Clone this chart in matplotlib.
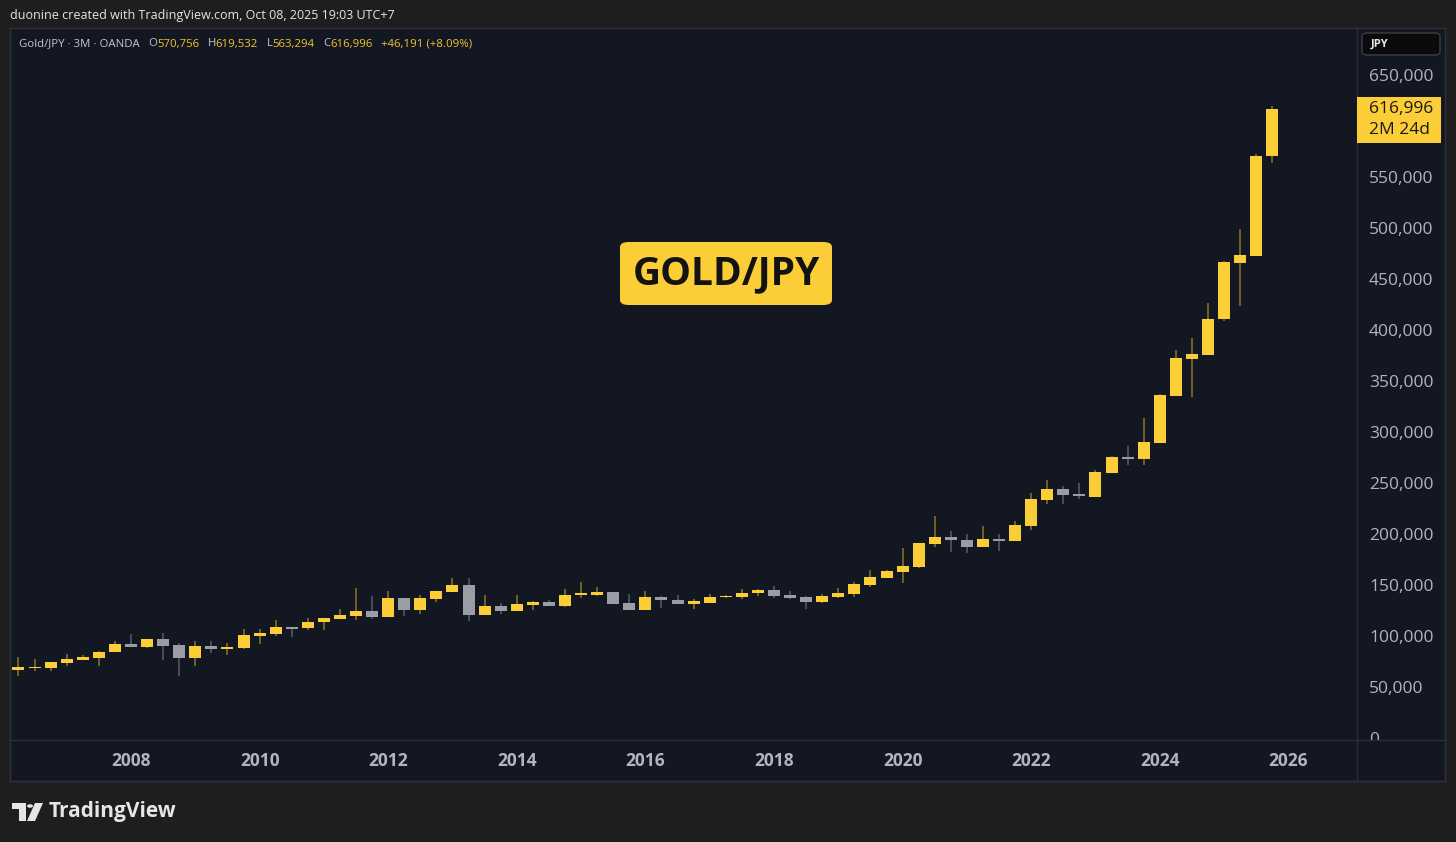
import matplotlib
matplotlib.use("Agg")
import matplotlib.pyplot as plt
from matplotlib.patches import FancyBboxPatch, Rectangle, Polygon, Circle
from matplotlib.lines import Line2D
import matplotlib.transforms as mtransforms

# ---------------- data (JPY, thousands) ----------------
quarters = [
    "2006Q2", "2006Q3", "2006Q4",
    "2007Q1", "2007Q2", "2007Q3", "2007Q4",
    "2008Q1", "2008Q2", "2008Q3", "2008Q4",
    "2009Q1", "2009Q2", "2009Q3", "2009Q4",
    "2010Q1", "2010Q2", "2010Q3", "2010Q4",
    "2011Q1", "2011Q2", "2011Q3", "2011Q4",
    "2012Q1", "2012Q2", "2012Q3", "2012Q4",
    "2013Q1", "2013Q2", "2013Q3", "2013Q4",
    "2014Q1", "2014Q2", "2014Q3", "2014Q4",
    "2015Q1", "2015Q2", "2015Q3", "2015Q4",
    "2016Q1", "2016Q2", "2016Q3", "2016Q4",
    "2017Q1", "2017Q2", "2017Q3", "2017Q4",
    "2018Q1", "2018Q2", "2018Q3", "2018Q4",
    "2019Q1", "2019Q2", "2019Q3", "2019Q4",
    "2020Q1", "2020Q2", "2020Q3", "2020Q4",
    "2021Q1", "2021Q2", "2021Q3", "2021Q4",
    "2022Q1", "2022Q2", "2022Q3", "2022Q4",
    "2023Q1", "2023Q2", "2023Q3", "2023Q4",
    "2024Q1", "2024Q2", "2024Q3", "2024Q4",
    "2025Q1", "2025Q2", "2025Q3", "2025Q4",
]
opens = [
    66.7, 68.6, 68.9, 73.8, 76.2, 78.4, 84.0, 92.2, 89.5, 97.4,
    91.5, 78.1, 90.2, 87.3, 88.2, 100.0, 102.0, 109.1, 107.8, 114.0,
    117.0, 119.6, 124.2, 118.9, 137.3, 125.8, 136.6, 143.1, 149.7, 120.6,
    129.7, 124.5, 130.7, 133.6, 129.7, 140.5, 140.5, 142.8, 132.6, 125.8,
    138.2, 135.3, 131.7, 132.6, 137.9, 137.9, 141.9, 145.4, 140.2, 137.9,
    133.6, 138.5, 141.5, 150.0, 156.9, 163.0, 167.6, 190.2, 197.1, 194.4,
    187.0, 195.1, 193.1, 208.1, 233.3, 244.4, 238.9, 236.6, 259.5, 275.5,
    273.5, 288.9, 335.3, 371.9, 375.5, 410.8, 466.0, 472.8, 570.756,
]
highs = [
    79.4, 77.4, 74.8, 82.4, 81.4, 85.3, 95.1, 102.0, 97.4, 102.9,
    93.4, 95.1, 95.1, 93.1, 106.9, 106.9, 115.7, 109.1, 117.6, 117.9,
    126.8, 146.8, 139.2, 143.8, 137.3, 139.9, 144.1, 156.6, 156.6, 139.9,
    132.6, 140.2, 134.6, 135.6, 146.4, 153.2, 148.0, 143.4, 141.5, 144.1,
    139.5, 140.5, 136.0, 141.2, 140.5, 146.1, 146.1, 148.7, 144.4, 138.9,
    140.9, 147.4, 152.9, 164.7, 164.7, 186.3, 191.2, 218.0, 202.6, 200.0,
    208.1, 200.3, 212.4, 239.9, 253.0, 246.8, 250.0, 263.1, 276.8, 286.3,
    313.7, 337.0, 380.1, 391.9, 426.5, 467.7, 498.7, 572.9, 619.532,
]
lows = [
    61.0, 65.7, 65.4, 70.6, 76.2, 70.6, 84.0, 89.2, 87.9, 76.8,
    61.1, 70.6, 83.3, 81.4, 87.3, 92.2, 100.0, 99.0, 105.9, 106.2,
    117.0, 115.7, 117.0, 118.9, 119.6, 121.9, 133.6, 143.1, 114.7, 120.6,
    121.9, 124.5, 125.5, 129.7, 128.7, 137.5, 138.9, 131.7, 125.8, 125.8,
    127.7, 131.7, 126.8, 132.6, 137.3, 136.6, 139.5, 137.3, 136.6, 126.8,
    132.6, 137.0, 138.5, 148.3, 156.9, 151.7, 166.7, 187.5, 182.4, 181.1,
    187.0, 183.3, 193.1, 203.9, 229.4, 229.7, 234.3, 236.6, 259.5, 267.9,
    267.9, 288.9, 335.3, 334.3, 375.5, 408.8, 423.5, 472.8, 563.294,
]
closes = [
    69.6, 69.6, 74.8, 77.2, 79.1, 84.3, 91.9, 89.2, 97.4, 90.5,
    78.1, 90.2, 87.3, 89.2, 101.3, 103.2, 108.8, 106.9, 113.7, 117.9,
    120.3, 124.2, 118.9, 137.3, 125.8, 137.3, 144.1, 149.7, 120.6, 129.7,
    124.5, 131.7, 133.6, 129.7, 140.5, 141.2, 142.8, 131.7, 125.8, 138.2,
    135.0, 131.7, 134.0, 138.2, 139.5, 142.5, 145.4, 139.5, 137.3, 133.6,
    139.2, 142.5, 151.0, 157.8, 163.7, 168.3, 191.2, 197.1, 193.8, 187.0,
    195.1, 193.1, 209.1, 234.6, 244.4, 238.5, 236.9, 260.8, 275.5, 273.5,
    289.9, 336.3, 372.8, 376.5, 410.8, 466.7, 473.8, 570.805, 616.996,
]
price_ticks = [0, 50000, 100000, 150000, 200000, 250000, 300000, 350000,
               400000, 450000, 500000, 550000, 600000, 650000]
year_ticks = [2008, 2010, 2012, 2014, 2016, 2018, 2020, 2022, 2024, 2026]
hidden_price_labels = [600000]

header_text = "duonine created with TradingView.com, Oct 08, 2025 19:03 UTC+7"
legend_parts = [
    ("Gold/JPY \u00b7 3M \u00b7 OANDA", "g", 0),
    ("O", "g", 6), ("570,756", "y", 0),
    ("H", "g", 6), ("619,532", "y", 0),
    ("L", "g", 6), ("563,294", "y", 0),
    ("C", "g", 6), ("616,996", "y", 0),
    ("+46,191 (+8.09%)", "y", 6),
]
title_text = "GOLD/JPY"
last_label = ["616,996", "2M 24d"]

# ---------------- style ----------------
W, H = 1456, 842
BG_OUT = "#1e1e1e"
BG = "#131722"
GRID = "#2a2e39"
UP = "#fbcd37"
DOWN = "#9b9da6"
UP_WICK = "#8c7427"
DOWN_WICK = "#5a5d68"
TXT = "#b2b5be"
LEG_Y = "#f3c52c"
LEG_G = "#c4c7cf"
FONT = "Open Sans"

plt.rcParams["font.family"] = [FONT, "DejaVu Sans"]

fig = plt.figure(figsize=(W / 100, H / 100), dpi=100, facecolor=BG_OUT)


def rect(x0, y0, x1, y1):
    return [x0 / W, 1 - y1 / H, (x1 - x0) / W, (y1 - y0) / H]


def fx(px):
    return px / W


def fy(py):
    return 1 - py / H


# panel background (behind the axes)
fig.patches.append(Rectangle((fx(10), fy(781)), (1445 - 10) / W, (781 - 28) / H,
                             transform=fig.transFigure, facecolor=BG,
                             edgecolor="#2e323d", lw=1, zorder=-5))

ax = fig.add_axes(rect(10, 28, 1357, 740))
pax = fig.add_axes(rect(1357, 28, 1445, 740), sharey=ax)
tax = fig.add_axes(rect(10, 740, 1357, 781), sharex=ax)
for a in (ax, pax, tax):
    a.axis("off")

# x in decimal years
xs = [int(q[:4]) + (int(q[-1]) - 1) * 0.25 for q in quarters]
px_per_year = 64.3
x_left = 2008 - (131 - 10) / px_per_year
x_right = 2008 + (1357 - 131) / px_per_year
ax.set_xlim(x_left, x_right)
ax.set_ylim(-2000, 696000)

body_w = 12 / px_per_year
min_h = 1300
for x, o, h, l, c in zip(xs, opens, highs, lows, closes):
    o, h, l, c = o * 1000, h * 1000, l * 1000, c * 1000
    up = c >= o
    ax.vlines(x, l, h, color=UP_WICK if up else DOWN_WICK, lw=1.1, zorder=2)
    bot = min(o, c)
    hgt = max(abs(c - o), min_h)
    ax.bar(x, hgt, bottom=bot, width=body_w, color=UP if up else DOWN,
           edgecolor="none", zorder=3)

# price axis labels
ptrans = mtransforms.blended_transform_factory(pax.transAxes, pax.transData)
ptrans = mtransforms.offset_copy(ptrans, fig=fig, x=0, y=-2, units="dots")
for v in price_ticks:
    if v in hidden_price_labels:
        continue
    pax.text(0.136, v, f"{v:,}", transform=ptrans, ha="left", va="center",
             color=TXT, fontsize=12.5, clip_on=True)

# time axis labels
ttrans = mtransforms.blended_transform_factory(tax.transData, tax.transAxes)
for yr in year_ticks:
    tax.text(yr, 0.5, str(yr), transform=ttrans, ha="center", va="center",
             color=TXT, fontsize=12.5, fontweight="bold")

# separators
fig.add_artist(Line2D([fx(10), fx(1445)], [fy(740), fy(740)], color=GRID, lw=1))
fig.add_artist(Line2D([fx(1357), fx(1357)], [fy(28), fy(781)], color=GRID, lw=1))

# JPY box
fig.patches.append(FancyBboxPatch((fx(1362), fy(55)), (1440 - 1362) / W, (55 - 33) / H,
                                  boxstyle="round,pad=0,rounding_size=0.004",
                                  transform=fig.transFigure, facecolor="#0b0b0c",
                                  edgecolor="#3a3e49", lw=1, zorder=5))
fig.text(fx(1371), fy(44.5), "JPY", color="#e8e8ea", fontsize=8, fontweight="bold",
         va="center", ha="left", zorder=6)

# last price label
fig.patches.append(Rectangle((fx(1357), fy(143)), (1441 - 1357) / W, (143 - 97) / H,
                             transform=fig.transFigure, facecolor=UP,
                             edgecolor="none", zorder=5))
fig.text(fx(1369), fy(109), last_label[0], color="#1a1a1a", fontsize=12.5,
         va="center", ha="left", zorder=6)
fig.text(fx(1369), fy(130), last_label[1], color="#1a1a1a", fontsize=12.5,
         va="center", ha="left", zorder=6)

# header
fig.text(fx(10), fy(15), header_text, color="#e6e6e6", fontsize=9,
         va="center", ha="left")

# legend chain
colors = {"g": LEG_G, "y": LEG_Y}
prev = fig.text(fx(19), fy(44), legend_parts[0][0], color=colors[legend_parts[0][1]],
                fontsize=8.2, va="center", ha="left")
for txt, col, gap in legend_parts[1:]:
    prev = fig.add_artist(matplotlib.text.Annotation(
        txt, xy=(1, 0.5), xycoords=prev, xytext=(gap, 0),
        textcoords="offset points", va="center", ha="left",
        color=colors[col], fontsize=8.2, annotation_clip=False))

# title badge
fig.patches.append(FancyBboxPatch((fx(620), fy(305)), (832 - 620) / W, (305 - 242) / H,
                                  boxstyle="round,pad=0,rounding_size=0.006",
                                  transform=fig.transFigure, facecolor=UP,
                                  edgecolor="none", zorder=5))
fig.text(fx(726), fy(274), title_text, color="#131313", fontsize=28,
         fontweight="bold", ha="center", va="center", zorder=6)

# TradingView logo
lc = "#e6e6e6"
fig.patches.append(Polygon([(fx(12), fy(803)), (fx(26), fy(803)), (fx(26), fy(821)),
                            (fx(19), fy(821)), (fx(19), fy(809)), (fx(12), fy(809))],
                           closed=True, transform=fig.transFigure, facecolor=lc,
                           edgecolor="none"))
fig.patches.append(Circle((fx(30), fy(806)), 3 / W, transform=fig.transFigure,
                          facecolor=lc, edgecolor="none"))
fig.patches.append(Polygon([(fx(35), fy(803)), (fx(43), fy(803)), (fx(35), fy(821)),
                            (fx(27), fy(821))],
                           closed=True, transform=fig.transFigure, facecolor=lc,
                           edgecolor="none"))
fig.text(fx(49), fy(811), "TradingView", color=lc, fontsize=15, fontweight="bold",
         va="center", ha="left")

fig.savefig("out.png", dpi=100, facecolor=BG_OUT)
